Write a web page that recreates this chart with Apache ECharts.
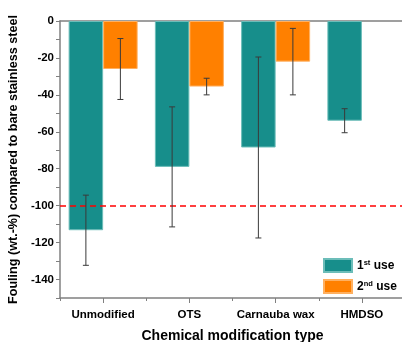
<!DOCTYPE html>
<html>
<head>
<meta charset="utf-8">
<script src="https://cdn.jsdelivr.net/npm/echarts@6/dist/echarts.min.js"></script>
<style>
  html, body { margin: 0; padding: 0; background: #ffffff; }
  #chart { width: 402px; height: 342px; }
</style>
</head>
<body>
<div id="chart"></div>
<script>
// Fouling change (wt.-%) relative to bare stainless steel, per surface treatment
const categories = ['Unmodified', 'OTS', 'Carnauba wax', 'HMDSO'];
const firstUse = [-113.3, -79, -68.5, -54];
const firstUseErr = [19, 32.5, 49, 6.5];
const secondUse = [-26, -35.5, -22, null];
const secondUseErr = [16.5, 4.5, 18, null];
const referenceLevel = -100;
const yMin = -150;
const yMax = 0;

const FONT = "'Liberation Sans', Arial, sans-serif";
const TEAL = '#178e8b';
const ORANGE = '#ff8000';
const AXIS_GRAY = '#808080';
const BAR_W = 34.5;

function errorData(means, errs) {
  const out = [];
  means.forEach((m, i) => {
    if (m !== null && errs[i] !== null) out.push([i, m, errs[i]]);
  });
  return out;
}

// Whisker renderer; side = -1 for the left bar of a pair, +1 for the right one
function whiskers(side) {
  return function (params, api) {
    const i = api.value(0), m = api.value(1), e = api.value(2);
    const top = api.coord([i, m + e]);
    const bot = api.coord([i, m - e]);
    const x = top[0] + side * BAR_W / 2;
    const cap = 3;
    const style = { stroke: '#3a3a3a', lineWidth: 1 };
    return {
      type: 'group',
      children: [
        { type: 'line', shape: { x1: x, y1: top[1], x2: x, y2: bot[1] }, style },
        { type: 'line', shape: { x1: x - cap, y1: top[1], x2: x + cap, y2: top[1] }, style },
        { type: 'line', shape: { x1: x - cap, y1: bot[1], x2: x + cap, y2: bot[1] }, style }
      ]
    };
  };
}

const chart = echarts.init(document.getElementById('chart'), null, { renderer: 'canvas' });

chart.setOption({
  animation: false,
  backgroundColor: '#ffffff',
  textStyle: { fontFamily: FONT },
  grid: { left: 60, top: 21, right: -3, bottom: 44, containLabel: false, outerBoundsMode: 'none' },
  legend: {
    left: 323,
    top: 258,
    padding: 0,
    orient: 'vertical',
    icon: 'rect',
    itemWidth: 28,
    itemHeight: 13,
    itemGap: 6,
    selectedMode: false,
    data: ['1st use', '2nd use'],
    formatter: function (name) {
      return name === '1st use' ? '{n|1}{s|st}{n| use}' : '{n|2}{s|nd}{n| use}';
    },
    textStyle: {
      color: '#000',
      rich: {
        n: { fontSize: 12, fontWeight: 'bold', fontFamily: FONT, color: '#000', lineHeight: 14 },
        s: { fontSize: 7.5, fontWeight: 'bold', fontFamily: FONT, color: '#000', verticalAlign: 'top', lineHeight: 9 }
      }
    }
  },
  xAxis: [
    {
      type: 'category',
      data: categories,
      position: 'bottom',
      axisLine: { show: true, onZero: false, lineStyle: { color: AXIS_GRAY, width: 1.5 } },
      axisTick: { show: true, alignWithLabel: true, length: 5, lineStyle: { color: AXIS_GRAY, width: 1 } },
      axisLabel: { interval: 0, color: '#000', fontSize: 11.5, fontWeight: 'bold', fontFamily: FONT, margin: 11 },
      name: 'Chemical modification type',
      nameLocation: 'middle',
      nameGap: 31,
      nameTextStyle: { color: '#000', fontSize: 14, fontWeight: 'bold', fontFamily: FONT },
      splitLine: { show: false }
    },
    {
      // band boundary ticks between the categories
      type: 'category',
      data: categories,
      position: 'bottom',
      axisLine: { show: false, onZero: false },
      axisTick: { show: true, interval: 0, alignWithLabel: false, length: 3, lineStyle: { color: AXIS_GRAY, width: 1 } },
      axisLabel: { show: false },
      splitLine: { show: false }
    },
    {
      // frame line along the top of the plot
      type: 'category',
      data: categories,
      position: 'top',
      axisLine: { show: true, onZero: false, lineStyle: { color: AXIS_GRAY, width: 1.5 } },
      axisTick: { show: false },
      axisLabel: { show: false },
      splitLine: { show: false }
    }
  ],
  yAxis: {
    type: 'value',
    min: yMin,
    max: yMax,
    interval: 10,
    axisLine: { show: true, lineStyle: { color: AXIS_GRAY, width: 1.5 } },
    axisTick: { show: true, length: 4, lineStyle: { color: AXIS_GRAY, width: 1 } },
    axisLabel: {
      color: '#000',
      fontSize: 11.5,
      fontWeight: 'bold',
      fontFamily: FONT,
      margin: 6,
      formatter: function (v) { return (v % 20 === 0) ? String(v) : ''; }
    },
    splitLine: { show: false },
    name: 'Fouling (wt.-%) compared to bare stainless steel',
    nameLocation: 'middle',
    nameGap: 36,
    nameTextStyle: { color: '#000', fontSize: 12.6, fontWeight: 'bold', fontFamily: FONT }
  },
  series: [
    {
      name: '1st use',
      type: 'bar',
      xAxisIndex: 0,
      data: firstUse,
      barWidth: BAR_W,
      barGap: '0%',
      itemStyle: { color: TEAL, borderColor: '#6cbdb9', borderWidth: 1 },
      z: 2,
      markLine: {
        silent: true,
        symbol: 'none',
        z: 4,
        label: { show: false },
        lineStyle: { color: '#ff0000', type: [6, 4], width: 1.5 },
        data: [{ yAxis: referenceLevel }]
      }
    },
    {
      name: '2nd use',
      type: 'bar',
      xAxisIndex: 0,
      data: secondUse,
      barWidth: BAR_W,
      barGap: '0%',
      itemStyle: { color: ORANGE, borderColor: '#ffb060', borderWidth: 1 },
      z: 2
    },
    {
      type: 'custom',
      xAxisIndex: 0,
      data: errorData(firstUse, firstUseErr),
      renderItem: whiskers(-1),
      z: 5,
      silent: true
    },
    {
      type: 'custom',
      xAxisIndex: 0,
      data: errorData(secondUse, secondUseErr),
      renderItem: whiskers(1),
      z: 5,
      silent: true
    }
  ]
});
</script>
</body>
</html>
